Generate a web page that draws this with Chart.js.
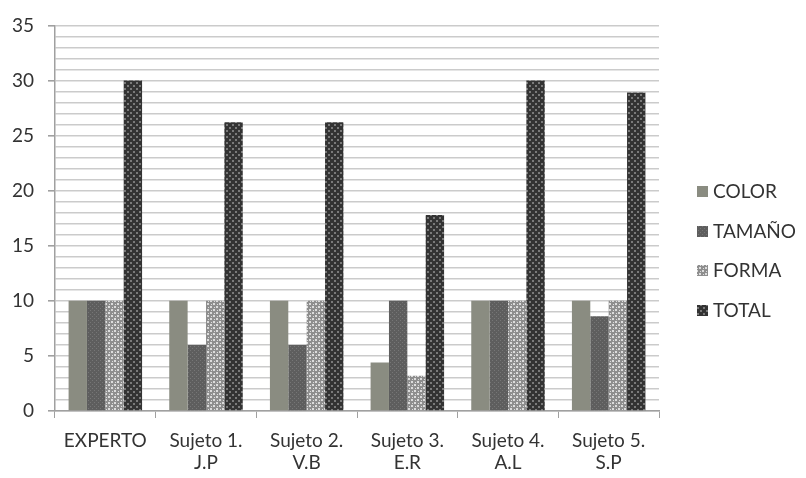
<!DOCTYPE html>
<html>
<head>
<meta charset="utf-8">
<script src="https://cdn.jsdelivr.net/npm/chart.js@4.4.1/dist/chart.umd.min.js"></script>
<style>
    html, body { margin: 0; padding: 0; background: #fff; }
    #wrap { width: 806px; height: 478px; }
</style>
</head>
<body>
<div id="wrap"><canvas id="chart" width="806" height="478"></canvas></div>
<script>
// Categories (two-line labels) and series
const categories = [
    ["EXPERTO"],
    ["Sujeto 1.", "J.P"],
    ["Sujeto 2.", "V.B"],
    ["Sujeto 3.", "E.R"],
    ["Sujeto 4.", "A.L"],
    ["Sujeto 5.", "S.P"]
];
const seriesNames = ["COLOR", "TAMAÑO", "FORMA", "TOTAL"];
const colorValues = [10, 10, 10, 4.4, 10, 10];
const tamanoValues = [10, 6, 6, 10, 10, 8.6];
const formaValues = [10, 10, 10, 3.2, 10, 10];
const totalValues = [30, 26.2, 26.2, 17.8, 30, 28.9];
const yTicks = [0, 5, 10, 15, 20, 25, 30, 35];

const FONT = "Lato, 'Open Sans', sans-serif";
const TEXT = '#333333';

// little textures to stand in for the office-style fills
function makePattern(base, dot, size, dots) {
    const c = document.createElement('canvas');
    c.width = size;
    c.height = size;
    const g = c.getContext('2d');
    g.fillStyle = base;
    g.fillRect(0, 0, size, size);
    g.fillStyle = dot;
    dots.forEach(d => g.fillRect(d[0], d[1], d[2] || 1, d[3] || 1));
    return document.getElementById('chart').getContext('2d').createPattern(c, 'repeat');
}

const fillColor = '#8a8c81';
const fillTamano = makePattern('#5e5e5e', '#767676', 4, [[0, 0], [2, 2]]);
const fillForma = makePattern('#8e8e8e', '#dcdcdc', 6, [[0, 0, 2, 2], [3, 3, 2, 2], [1, 4], [4, 1]]);
const fillTotal = makePattern('#333333', '#7a7a7a', 6, [[1, 1, 2, 2], [4, 4, 2, 2]]);
const fills = [fillColor, fillTamano, fillForma, fillTotal];

// legend drawn by hand so it sits where the original one does
const sideLegend = {
    id: 'sideLegend',
    afterDraw(chart) {
        const ctx = chart.ctx;
        const rows = [191, 231, 270, 310];
        ctx.save();
        ctx.font = '19px ' + FONT;
        ctx.textBaseline = 'middle';
        seriesNames.forEach((name, i) => {
            ctx.fillStyle = fills[i];
            ctx.fillRect(697, rows[i] - 5, 11, 11);
            ctx.fillStyle = TEXT;
            ctx.fillText(name, 713, rows[i] + 1);
        });
        ctx.restore();
    }
};

new Chart(document.getElementById('chart'), {
    type: 'bar',
    data: {
        labels: categories,
        datasets: [
            { label: seriesNames[0], data: colorValues, backgroundColor: fills[0] },
            { label: seriesNames[1], data: tamanoValues, backgroundColor: fills[1] },
            { label: seriesNames[2], data: formaValues, backgroundColor: fills[2] },
            { label: seriesNames[3], data: totalValues, backgroundColor: fills[3] }
        ]
    },
    options: {
        responsive: false,
        animation: false,
        layout: { padding: { top: 20, right: 147, left: 0, bottom: 0 } },
        datasets: {
            bar: { categoryPercentage: 0.73, barPercentage: 1.0, borderWidth: 0 }
        },
        plugins: {
            legend: { display: false },
            tooltip: { enabled: false }
        },
        scales: {
            x: {
                offset: true,
                grid: {
                    offset: true,
                    drawOnChartArea: false,
                    tickLength: 7,
                    color: '#a0a0a0'
                },
                border: { color: '#a0a0a0', width: 1.5 },
                ticks: {
                    color: TEXT,
                    font: { family: FONT, size: 19, lineHeight: 1.2 },
                    padding: 11,
                    maxRotation: 0
                },
                afterFit(scale) { scale.height = 67; }
            },
            y: {
                min: 0,
                max: 35,
                ticks: {
                    stepSize: 1,
                    autoSkip: false,
                    color: TEXT,
                    font: { family: FONT, size: 19 },
                    padding: 14,
                    callback: v => (yTicks.includes(v) ? v : '')
                },
                grid: {
                    color: '#cbcbcb',
                    lineWidth: 1.6,
                    tickLength: 7,
                    tickColor: c => (yTicks.includes(c.tick.value) ? '#a0a0a0' : 'rgba(0,0,0,0)')
                },
                border: { color: '#a0a0a0', width: 1.5 },
                afterFit(scale) { scale.width = 55; }
            }
        }
    },
    plugins: [sideLegend]
});
</script>
</body>
</html>
